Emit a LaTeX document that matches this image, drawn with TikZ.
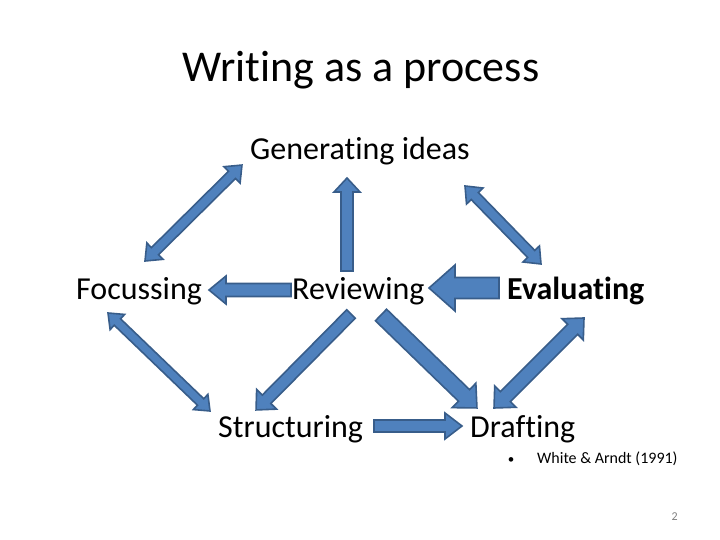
\documentclass[tikz,border=0pt]{standalone}
\usepackage{fontspec}
\setmainfont{Carlito}[Ligatures={NoCommon}]
\definecolor{arrfill}{HTML}{4F81BD}
\definecolor{arrline}{HTML}{385D8A}
\tikzset{
  blockarrow/.style={fill=arrfill, draw=arrline, line width=1.6pt, line join=miter},
  lbl/.style={anchor=base west, inner sep=0pt, font=\fontsize{32}{38}\selectfont},
}
% single block arrow: x1 y1 x2 y2(tip) shaft-half head-half head-length
\newcommand\sarrow[7]{%
  \pgfmathsetmacro\adx{#3-#1}\pgfmathsetmacro\ady{#4-#2}%
  \pgfmathsetmacro\alen{veclen(\adx,\ady)}\pgfmathsetmacro\aang{-atan2(\ady,\adx)}%
  \begin{scope}[shift={(#1,#2)},rotate=\aang]
    \draw[blockarrow] (0,-#5) -- (\alen-#7,-#5) -- (\alen-#7,-#6) -- (\alen,0)
      -- (\alen-#7,#6) -- (\alen-#7,#5) -- (0,#5) -- cycle;
  \end{scope}}
% double block arrow
\newcommand\darrow[7]{%
  \pgfmathsetmacro\adx{#3-#1}\pgfmathsetmacro\ady{#4-#2}%
  \pgfmathsetmacro\alen{veclen(\adx,\ady)}\pgfmathsetmacro\aang{-atan2(\ady,\adx)}%
  \begin{scope}[shift={(#1,#2)},rotate=\aang]
    \draw[blockarrow] (0,0) -- (#7,-#6) -- (#7,-#5) -- (\alen-#7,-#5) -- (\alen-#7,-#6) -- (\alen,0)
      -- (\alen-#7,#6) -- (\alen-#7,#5) -- (#7,#5) -- (#7,#6) -- cycle;
  \end{scope}}
\begin{document}
\begin{tikzpicture}[x=1pt,y=-1pt]
\useasboundingbox[fill=white] (0,0) rectangle (720,540);
% texts
\node[anchor=base west, inner sep=0pt, font=\fontsize{44}{52}\selectfont] (title) at (182,82) {Writing as a process};
\node[lbl] (gen) at (250,160) {Generating ideas};
\node[lbl] (foc) at (76,299) {Focussing};
\node[lbl] (rev) at (292,299) {Reviewing};
\node[lbl, font=\fontsize{32}{38}\selectfont\bfseries] (eva) at (507,299) {Evaluating};
\node[lbl] (str) at (218,437) {Structuring};
\node[lbl] (dra) at (470,437) {Drafting};
\node[anchor=base, inner sep=0pt, font=\fontsize{13}{15}\selectfont] (bul) at (511,463) {•};
\node[anchor=base west, inner sep=0pt, font=\fontsize{16}{19}\selectfont] (ref) at (537,463) {White \& Arndt (1991)};
\node[anchor=base east, inner sep=0pt, text=gray, font=\fontsize{12}{14}\selectfont] (pg) at (678,520) {2};
% arrows
\darrow{145}{261}{242}{165}{5}{11.5}{14}
\sarrow{347}{271}{347}{178}{6}{13}{14}
\darrow{465}{186}{541}{264}{5}{11.5}{14}
\sarrow{499}{288}{429}{288}{10.5}{23}{26}
\sarrow{291}{290}{209}{290}{6.5}{14}{17}
\darrow{108}{313}{210}{411}{4.5}{10.5}{13}
\sarrow{351}{314}{256}{410}{6}{14}{15}
\sarrow{381}{315}{477}{408}{8}{17}{18}
\darrow{584}{318}{494}{408}{7}{15}{16}
\sarrow{374}{426}{462}{426}{6}{13}{17}
\end{tikzpicture}
\end{document}
